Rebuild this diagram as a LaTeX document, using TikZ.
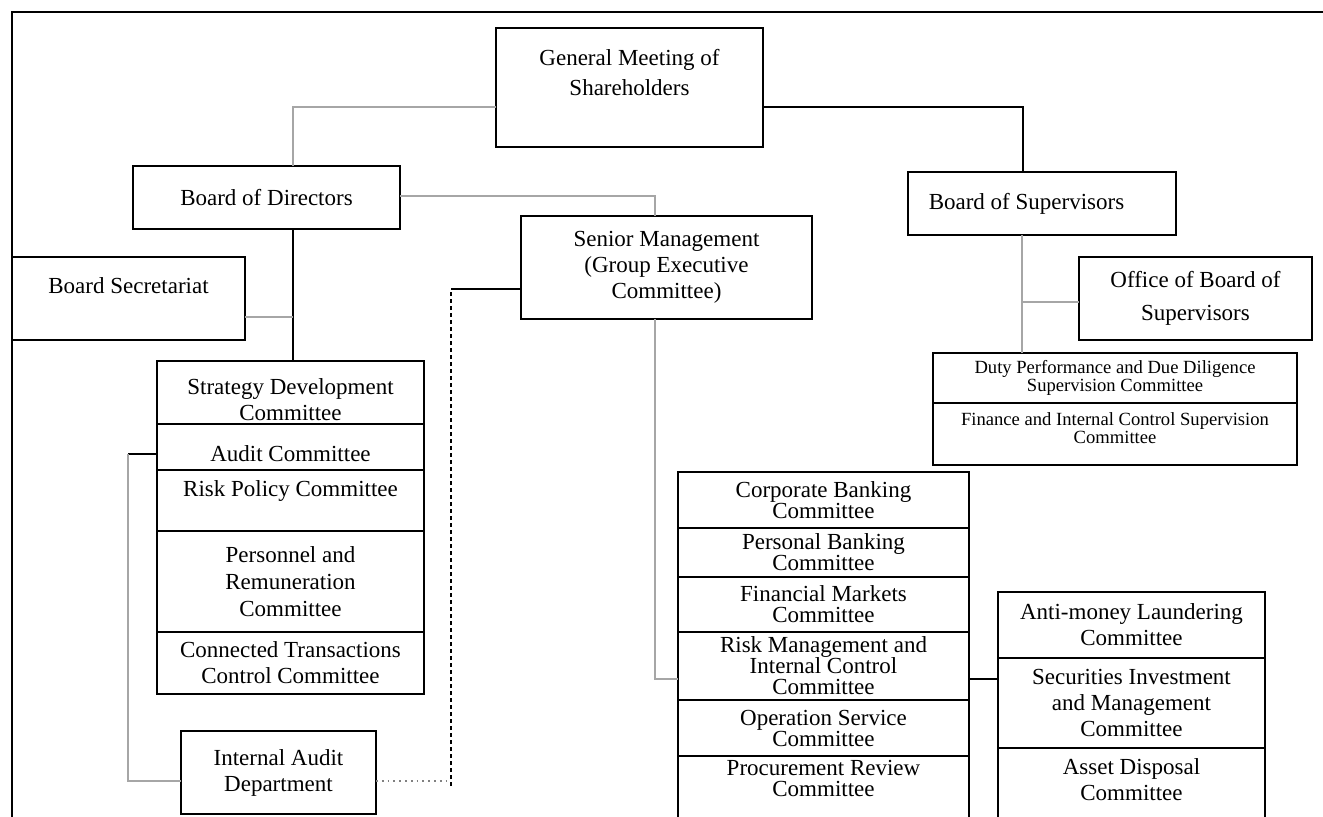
\documentclass[tikz,border=0pt]{standalone}
\usepackage{fontspec}
\setmainfont{Liberation Serif}
\usetikzlibrary{positioning}

\tikzset{
    orgbox/.style={rectangle, draw=black, line width=0.8pt, inner sep=0pt, outer sep=0pt, align=center, font=\fontsize{11.5}{13}\selectfont},
    orgtext/.style={inner sep=0pt, align=center, font=\fontsize{11.5}{13}\selectfont},
    tight/.style={font=\fontsize{11.5}{10.5}\selectfont},
    dpfont/.style={font=\fontsize{9.3}{9}\selectfont},
    link/.style={draw=black, line width=0.6pt},
    glink/.style={draw=gray!70, line width=0.7pt},
}

\begin{document}
\begin{tikzpicture}[x=0.5pt, y=-0.5pt]
    \useasboundingbox (0,0) rectangle (1323,816);
    \clip (0,0) rectangle (1323,816);
    \draw [line width=0.8pt] (12,840) |- (1340,12);

    % shareholders and the two boards
    \node (gm) [orgbox, minimum width=133.5pt, minimum height=59.5pt] at (629.5,87.5) {};
    \node (gm-t) [orgtext, font=\fontsize{11.5}{15}\selectfont] at ([yshift=7.25pt]gm) {General Meeting of\\Shareholders};
    \node (bod) [orgbox, minimum width=133.5pt, minimum height=31.5pt] at (266.5,197.5) {Board of Directors};
    \node (bos) [orgbox, minimum width=134pt, minimum height=31.5pt] at (1042,203.5) {};
    \node (bos-t) [orgtext] at ([xshift=-7.75pt]bos) {Board of Supervisors};
    \node (bsec) [orgbox, minimum width=116.5pt, minimum height=41.5pt] at (128.5,298.5) {};
    \node (bsec-t) [orgtext] at ([yshift=6.25pt]bsec) {Board Secretariat};
    \node (sm) [orgbox, minimum width=145.5pt, minimum height=51.5pt] at (666.5,267.5) {Senior Management\\(Group Executive\\Committee)};
    \node (obs) [orgbox, font=\fontsize{11.5}{16.5}\selectfont, minimum width=116.5pt, minimum height=41.5pt] at (1195.5,298.5) {Office of Board of\\Supervisors};

    % supervisors' committees
    \node (dp) [orgbox, dpfont, minimum width=182pt, minimum height=25pt] at (1115,378) {Duty Performance and Due Diligence\\Supervision Committee};
    \node (fic) [orgbox, minimum width=182pt, minimum height=31pt, below=0pt of dp] {};
    \node (fic-t) [orgtext, dpfont] at ([yshift=2.75pt]fic) {Finance and Internal Control Supervision\\Committee};

    % board committees
    \node (strat) [orgbox, minimum width=133.5pt, minimum height=31.5pt] at (290.5,392.5) {};
    \node (strat-t) [orgtext] at ([yshift=-3.75pt]strat) {Strategy Development\\Committee};
    \node (audit) [orgbox, minimum width=133.5pt, minimum height=23pt, below=0pt of strat] {};
    \node (audit-t) [orgtext] at ([yshift=-3.5pt]audit) {Audit Committee};
    \node (riskpol) [orgbox, minimum width=133.5pt, minimum height=30.5pt, below=0pt of audit] {};
    \node (riskpol-t) [orgtext] at ([yshift=4.75pt]riskpol) {Risk Policy Committee};
    \node (pers) [orgbox, font=\fontsize{11.5}{13.5}\selectfont, minimum width=133.5pt, minimum height=50.5pt, below=0pt of riskpol] {Personnel and\\Remuneration\\Committee};
    \node (conn) [orgbox, minimum width=133.5pt, minimum height=31pt, below=0pt of pers] {Connected Transactions\\Control Committee};
    \node (iad) [orgbox, minimum width=97.5pt, minimum height=41.5pt] at (278.5,772.5) {Internal Audit\\Department};

    % management committees
    \node (corp) [orgbox, tight, minimum width=145.5pt, minimum height=28pt] at (823.5,500) {Corporate Banking\\Committee};
    \node (persb) [orgbox, tight, minimum width=145.5pt, minimum height=24.5pt, below=0pt of corp] {Personal Banking\\Committee};
    \node (finm) [orgbox, tight, minimum width=145.5pt, minimum height=27.5pt, below=0pt of persb] {Financial Markets\\Committee};
    \node (riskm) [orgbox, tight, minimum width=145.5pt, minimum height=34pt, below=0pt of finm] {Risk Management and\\Internal Control\\Committee};
    \node (oper) [orgbox, tight, minimum width=145.5pt, minimum height=28pt, below=0pt of riskm] {Operation Service\\Committee};
    \node (proc) [orgbox, minimum width=145.5pt, minimum height=37pt, below=0pt of oper] {};
    \node (proc-t) [orgtext, tight] at ([yshift=7.25pt]proc) {Procurement Review\\Committee};

    \node (aml) [orgbox, minimum width=133.5pt, minimum height=33pt] at (1131.5,625) {Anti-money Laundering\\Committee};
    \node (sec) [orgbox, minimum width=133.5pt, minimum height=45pt, below=0pt of aml] {Securities Investment\\and Management\\Committee};
    \node (asset) [orgbox, minimum width=133.5pt, minimum height=41pt, below=0pt of sec] {};
    \node (asset-t) [orgtext] at ([yshift=4.5pt]asset) {Asset Disposal\\Committee};

    % connectors
    \coordinate (gmleft) at (293,107);
    \coordinate (gmright) at (1023,107);
    \coordinate (dirjoin) at (293,317);
    \coordinate (smjoin) at (655,196);
    \coordinate (supjoin) at (1022,302);
    \coordinate (mgmtjoin) at (655,679);
    \coordinate (auditjoin) at (128,454);
    \coordinate (auditfoot) at (128,781);
    \coordinate (dashfoot) at (451,781);
    \coordinate (dashtop) at (451,289);

    \draw [glink] (gm.west |- gmleft) -| (bod.north -| gmleft);
    \draw [link] (gm.east |- gmright) -| (bos.north -| gmright);
    \draw [glink] (bod.east |- smjoin) -| (sm.north -| smjoin);
    \draw [link] (bod.south -| dirjoin) -- (strat.north -| dirjoin);
    \draw [glink] (bsec.east |- dirjoin) -- (dirjoin);
    \draw [glink] (bos.south -| supjoin) -- (dp.north -| supjoin);
    \draw [glink] (supjoin) -- (obs.west |- supjoin);
    \draw [glink] (sm.south -| mgmtjoin) |- (riskm.west |- mgmtjoin);
    \draw [link] (riskm.east |- mgmtjoin) -- (sec.west |- mgmtjoin);
    \draw [link] (audit.west |- auditjoin) -- (auditjoin);
    \draw [glink] (auditjoin) -- (auditfoot) -- (iad.west |- auditfoot);
    \draw [gray, dotted, line width=0.9pt] (iad.east |- dashfoot) -- (dashfoot);
    \draw [link, dash pattern=on 2pt off 1.5pt] ([yshift=-2.5pt]dashfoot) -- (dashtop);
    \draw [link] (dashtop) -- (sm.west |- dashtop);
\end{tikzpicture}
\end{document}
